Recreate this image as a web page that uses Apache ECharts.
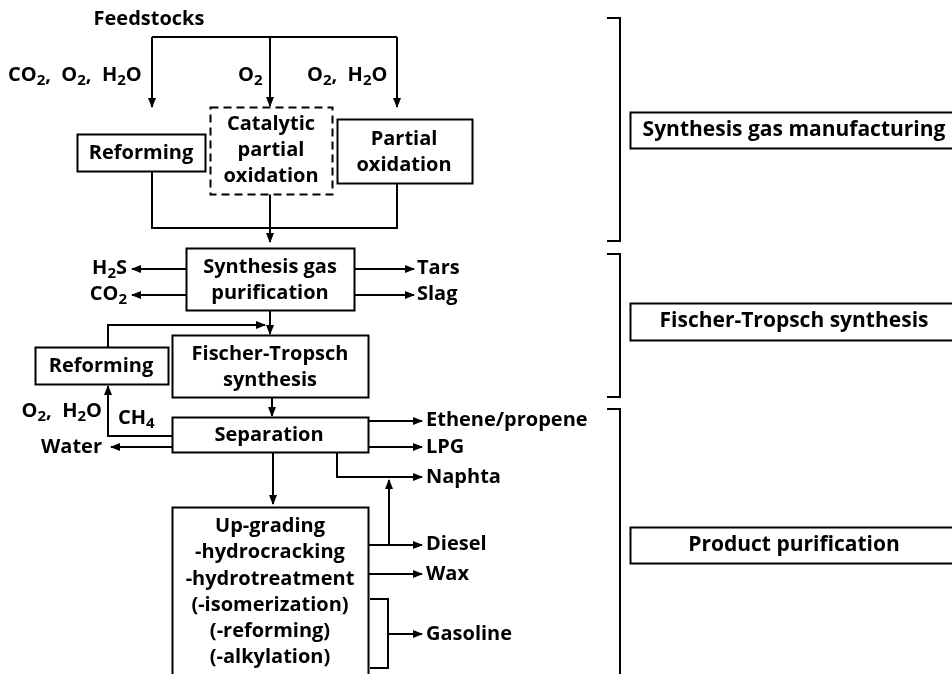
<!DOCTYPE html>
<html>
<head>
<meta charset="utf-8">
<script src="https://cdn.jsdelivr.net/npm/echarts@6/dist/echarts.min.js"></script>
<style>
html,body{margin:0;padding:0;background:#fff}
#chart{width:952px;height:674px}
</style>
</head>
<body>
<div id="chart"></div>
<script>
// diagram units = pixels of the 952x674 sheet, y grows downward

// process boxes: [x0, y0, x1, y1, dashed]
var boxRects = [
    [77, 134, 205, 171, 0],
    [210, 107, 332, 194, 1],
    [337, 119, 472, 183, 0],
    [186, 248, 354, 310, 0],
    [35, 347, 168, 384, 0],
    [172, 335, 368, 397, 0],
    [172, 417, 368, 452, 0],
    [172, 507, 368, 700, 0],
    [630, 112, 960, 148, 0],
    [630, 303, 960, 340, 0],
    [630, 527, 960, 563, 0]
]

// connectors: list of points, last flag = arrow at the end
var wirePoints = [
    [[152, 37], [397, 37]],
    [[152, 37], [152, 107]],
    [[270, 37], [270, 106]],
    [[397, 37], [397, 107]],
    [[152, 171], [152, 228], [397, 228], [397, 183]],
    [[270, 194], [270, 242]],
    [[186, 269], [132, 269]],
    [[186, 295], [132, 295]],
    [[354, 269], [414, 269]],
    [[354, 295], [414, 295]],
    [[270, 310], [270, 334]],
    [[108, 347], [108, 325], [265, 325]],
    [[272, 397], [272, 416]],
    [[172, 436], [108, 436], [108, 386]],
    [[172, 447], [111, 447]],
    [[273, 452], [273, 504]],
    [[368, 421], [422, 421]],
    [[368, 447], [422, 447]],
    [[337, 452], [337, 477], [422, 477]],
    [[368, 545], [422, 545]],
    [[389, 545], [389, 480]],
    [[368, 574], [422, 574]],
    [[370, 599], [388, 599], [388, 668], [370, 668]],
    [[388, 634], [422, 634]],
    [[607, 18], [620, 18], [620, 241], [607, 241]],
    [[607, 254], [620, 254], [620, 397], [607, 397]],
    [[607, 409], [620, 409], [620, 700]]
]
var wireArrow = [0, 1, 1, 1, 0, 1, 1, 1, 1, 1, 1, 1, 1, 1, 1, 1, 1, 1, 1, 1, 1, 1, 0, 1, 0, 0, 0]

// texts ({s|..} = subscript)
var labelText = [
    'Feedstocks',
    'CO{s|2},  O{s|2},  H{s|2}O',
    'O{s|2}',
    'O{s|2},  H{s|2}O',
    'Reforming',
    'Catalytic\npartial\noxidation',
    'Partial\noxidation',
    'Synthesis gas\npurification',
    'H{s|2}S',
    'CO{s|2}',
    'Tars',
    'Slag',
    'Reforming',
    'Fischer-Tropsch\nsynthesis',
    'O{s|2},  H{s|2}O',
    'CH{s|4}',
    'Separation',
    'Water',
    'Ethene/propene',
    'LPG',
    'Naphta',
    'Up-grading\n-hydrocracking\n-hydrotreatment\n(-isomerization)\n(-reforming)\n(-alkylation)',
    'Diesel',
    'Wax',
    'Gasoline',
    'Synthesis gas manufacturing',
    'Fischer-Tropsch synthesis',
    'Product purification'
]
// [x, y, align]
var labelPos = [
    [149, 19, 'center'],
    [8, 75, 'left'],
    [238, 75, 'left'],
    [307, 75, 'left'],
    [141, 153, 'center'],
    [271, 150, 'center'],
    [404, 152, 'center'],
    [270, 280, 'center'],
    [127, 268, 'right'],
    [127, 294, 'right'],
    [417, 268, 'left'],
    [417, 294, 'left'],
    [101, 366, 'center'],
    [270, 367, 'center'],
    [102, 411, 'right'],
    [118, 418, 'left'],
    [269, 435, 'center'],
    [102, 447, 'right'],
    [426, 420, 'left'],
    [426, 447, 'left'],
    [426, 477, 'left'],
    [270, 592, 'center'],
    [426, 544, 'left'],
    [426, 574, 'left'],
    [426, 634, 'left'],
    [794, 130, 'center'],
    [794, 321, 'center'],
    [794, 545, 'center']
]

var ink = '#000'
var fontName = '"Open Sans", "Noto Sans", sans-serif'

var chartDom = document.getElementById('chart')
var myChart = echarts.init(chartDom)

var renderBox = function(params, api){
    var r = boxRects[params.dataIndex]
    var a = api.coord([r[0], r[1]])
    var b = api.coord([r[2], r[3]])
    return {
        type: 'rect',
        shape: {x: Math.round(a[0]) + 0.5, y: Math.round(a[1]) + 0.5, width: Math.round(b[0] - a[0]), height: Math.round(b[1] - a[1])},
        style: {fill: '#fff', stroke: ink, lineWidth: 2, lineDash: r[4] ? [8, 5] : null}
    }
}

var renderWire = function(params, api){
    var pts = wirePoints[params.dataIndex].map(function(p){
        var c = api.coord(p)
        return [Math.round(c[0]), Math.round(c[1])]
    })
    var children = [{
        type: 'polyline',
        shape: {points: pts},
        style: {fill: null, stroke: ink, lineWidth: 2}
    }]
    if(wireArrow[params.dataIndex]){
        var p1 = pts[pts.length - 2]
        var p2 = pts[pts.length - 1]
        var dx = p2[0] - p1[0], dy = p2[1] - p1[1]
        var len = Math.sqrt(dx * dx + dy * dy)
        dx = dx / len
        dy = dy / len
        var L = 9, W = 4
        var bx = p2[0] - dx * L, by = p2[1] - dy * L
        children.push({
            type: 'polygon',
            shape: {points: [[p2[0] + dx, p2[1] + dy], [bx - dy * W, by + dx * W], [bx + dy * W, by - dx * W]]},
            style: {fill: ink}
        })
    }
    return {type: 'group', children: children}
}

var renderLabel = function(params, api){
    var p = labelPos[params.dataIndex]
    var c = api.coord([p[0], p[1]])
    var size = params.dataIndex >= 25 ? 21 : 20
    return {
        type: 'text',
        x: c[0],
        y: c[1],
        style: {
            text: labelText[params.dataIndex],
            fill: ink,
            fontFamily: fontName,
            fontWeight: 'bold',
            fontSize: size,
            lineHeight: params.dataIndex == 21 ? 26.2 : 26,
            align: p[2],
            verticalAlign: 'middle',
            rich: {
                s: {fontSize: 15, fontFamily: fontName, fontWeight: 'bold', fill: ink, lineHeight: 14, verticalAlign: 'bottom'}
            }
        }
    }
}

var idx = function(arr){
    return arr.map(function(d, i){ return [i] })
}

var option = {
    animation: false,
    grid: {left: 0, right: 0, top: 0, bottom: 0},
    xAxis: {type: 'value', min: 0, max: 952, show: false},
    yAxis: {type: 'value', min: 0, max: 674, inverse: true, show: false},
    series: [
        {type: 'custom', coordinateSystem: 'cartesian2d', renderItem: renderWire, data: idx(wirePoints), z: 1},
        {type: 'custom', coordinateSystem: 'cartesian2d', renderItem: renderBox, data: idx(boxRects), z: 2},
        {type: 'custom', coordinateSystem: 'cartesian2d', renderItem: renderLabel, data: idx(labelText), z: 3}
    ]
}
option && myChart.setOption(option)
</script>
</body>
</html>
